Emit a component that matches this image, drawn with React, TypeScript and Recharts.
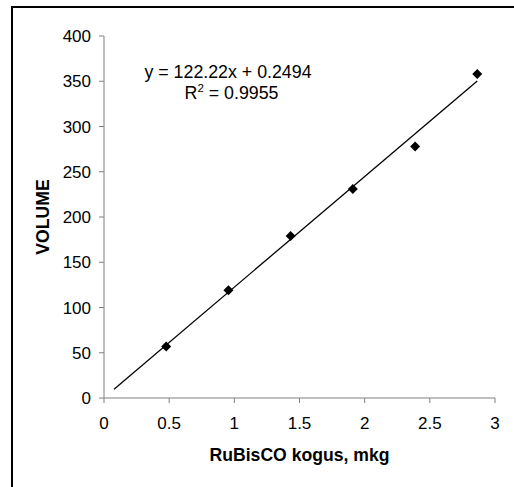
import React from 'react';
import { ScatterChart, Scatter, XAxis, YAxis, Label, Customized } from 'recharts';

const xValues = [0.477, 0.955, 1.432, 1.909, 2.387, 2.864];
const yValues = [57, 119, 179, 231, 278, 358];
const trendX = [0.077, 2.864];
const trendY = [9.7, 350.3];
const xTicks = [0, 0.5, 1, 1.5, 2, 2.5, 3];
const yTicks = [0, 50, 100, 150, 200, 250, 300, 350, 400];
const equationText = 'y = 122.22x + 0.2494';
const r2Text = ' = 0.9955';
const xLabel = 'RuBisCO kogus, mkg';
const yLabel = 'VOLUME';

const points = xValues.map((x, i) => ({ x, y: yValues[i] }));
const trend = trendX.map((x, i) => ({ x, y: trendY[i] }));

const FONT = '"Liberation Sans", Arial, sans-serif';
const AXIS = '#808080';

const Diamond = (props: any) => {
  const { cx, cy } = props;
  if (cx == null || cy == null) return <g />;
  const r = 5;
  return <path d={`M${cx},${cy - r}L${cx + r},${cy}L${cx},${cy + r}L${cx - r},${cy}Z`} fill="#000" />;
};

const NoShape = () => <g />;

const Equation = () => (
  <g fontFamily={FONT} fontSize={17.8} fill="#000">
    <text x={228} y={77.5} textAnchor="middle">{equationText}</text>
    <text x={231.5} y={99} textAnchor="middle">
      R<tspan dy={-7} fontSize={11.5}>2</tspan><tspan dy={7}>{r2Text}</tspan>
    </text>
  </g>
);

export default function App() {
  return (
    <div style={{ position: 'absolute', left: 0, top: 0, width: 514, height: 487, overflow: 'hidden', background: '#fff' }}>
      <div style={{ position: 'absolute', left: 11, top: 6, width: 600, height: 600, borderTop: '2px solid #000', borderLeft: '2px solid #000' }} />
      <div style={{ position: 'absolute', left: 0, top: 0 }}>
        <ScatterChart width={514} height={487} margin={{ top: 36, right: 19, bottom: 29, left: 0 }} style={{ fontFamily: FONT }}>
          <XAxis
            type="number"
            dataKey="x"
            domain={[0, 3]}
            ticks={xTicks}
            allowDataOverflow
            height={60}
            tickSize={5}
            tickMargin={14}
            stroke={AXIS}
            tick={{ fill: '#000', fontSize: 17, fontFamily: FONT }}
            tickLine={{ stroke: AXIS }}
          >
            <Label
              content={(p: any) => {
                const vb = p.viewBox || {};
                return (
                  <text x={vb.x + vb.width / 2} y={461} textAnchor="middle" fontSize={17.6} fontWeight="bold" fontFamily={FONT} fill="#000">
                    {xLabel}
                  </text>
                );
              }}
            />
          </XAxis>
          <YAxis
            type="number"
            dataKey="y"
            domain={[0, 400]}
            ticks={yTicks}
            allowDataOverflow
            width={104}
            tickSize={5}
            tickMargin={8}
            stroke={AXIS}
            tick={{ fill: '#000', fontSize: 17, fontFamily: FONT }}
            tickLine={{ stroke: AXIS }}
          >
            <Label
              content={(p: any) => {
                const vb = p.viewBox || {};
                const cy = vb.y + vb.height / 2;
                return (
                  <text transform={`translate(48.5,${cy}) rotate(-90)`} textAnchor="middle" fontSize={17.6} fontWeight="bold" fontFamily={FONT} fill="#000">
                    {yLabel}
                  </text>
                );
              }}
            />
          </YAxis>
          <Scatter data={trend} dataKey="y" line={{ stroke: '#000', strokeWidth: 1.3 }} lineType="joint" shape={NoShape} isAnimationActive={false} />
          <Scatter data={points} dataKey="y" shape={Diamond} isAnimationActive={false} />
          <Customized component={Equation} />
        </ScatterChart>
      </div>
    </div>
  );
}
